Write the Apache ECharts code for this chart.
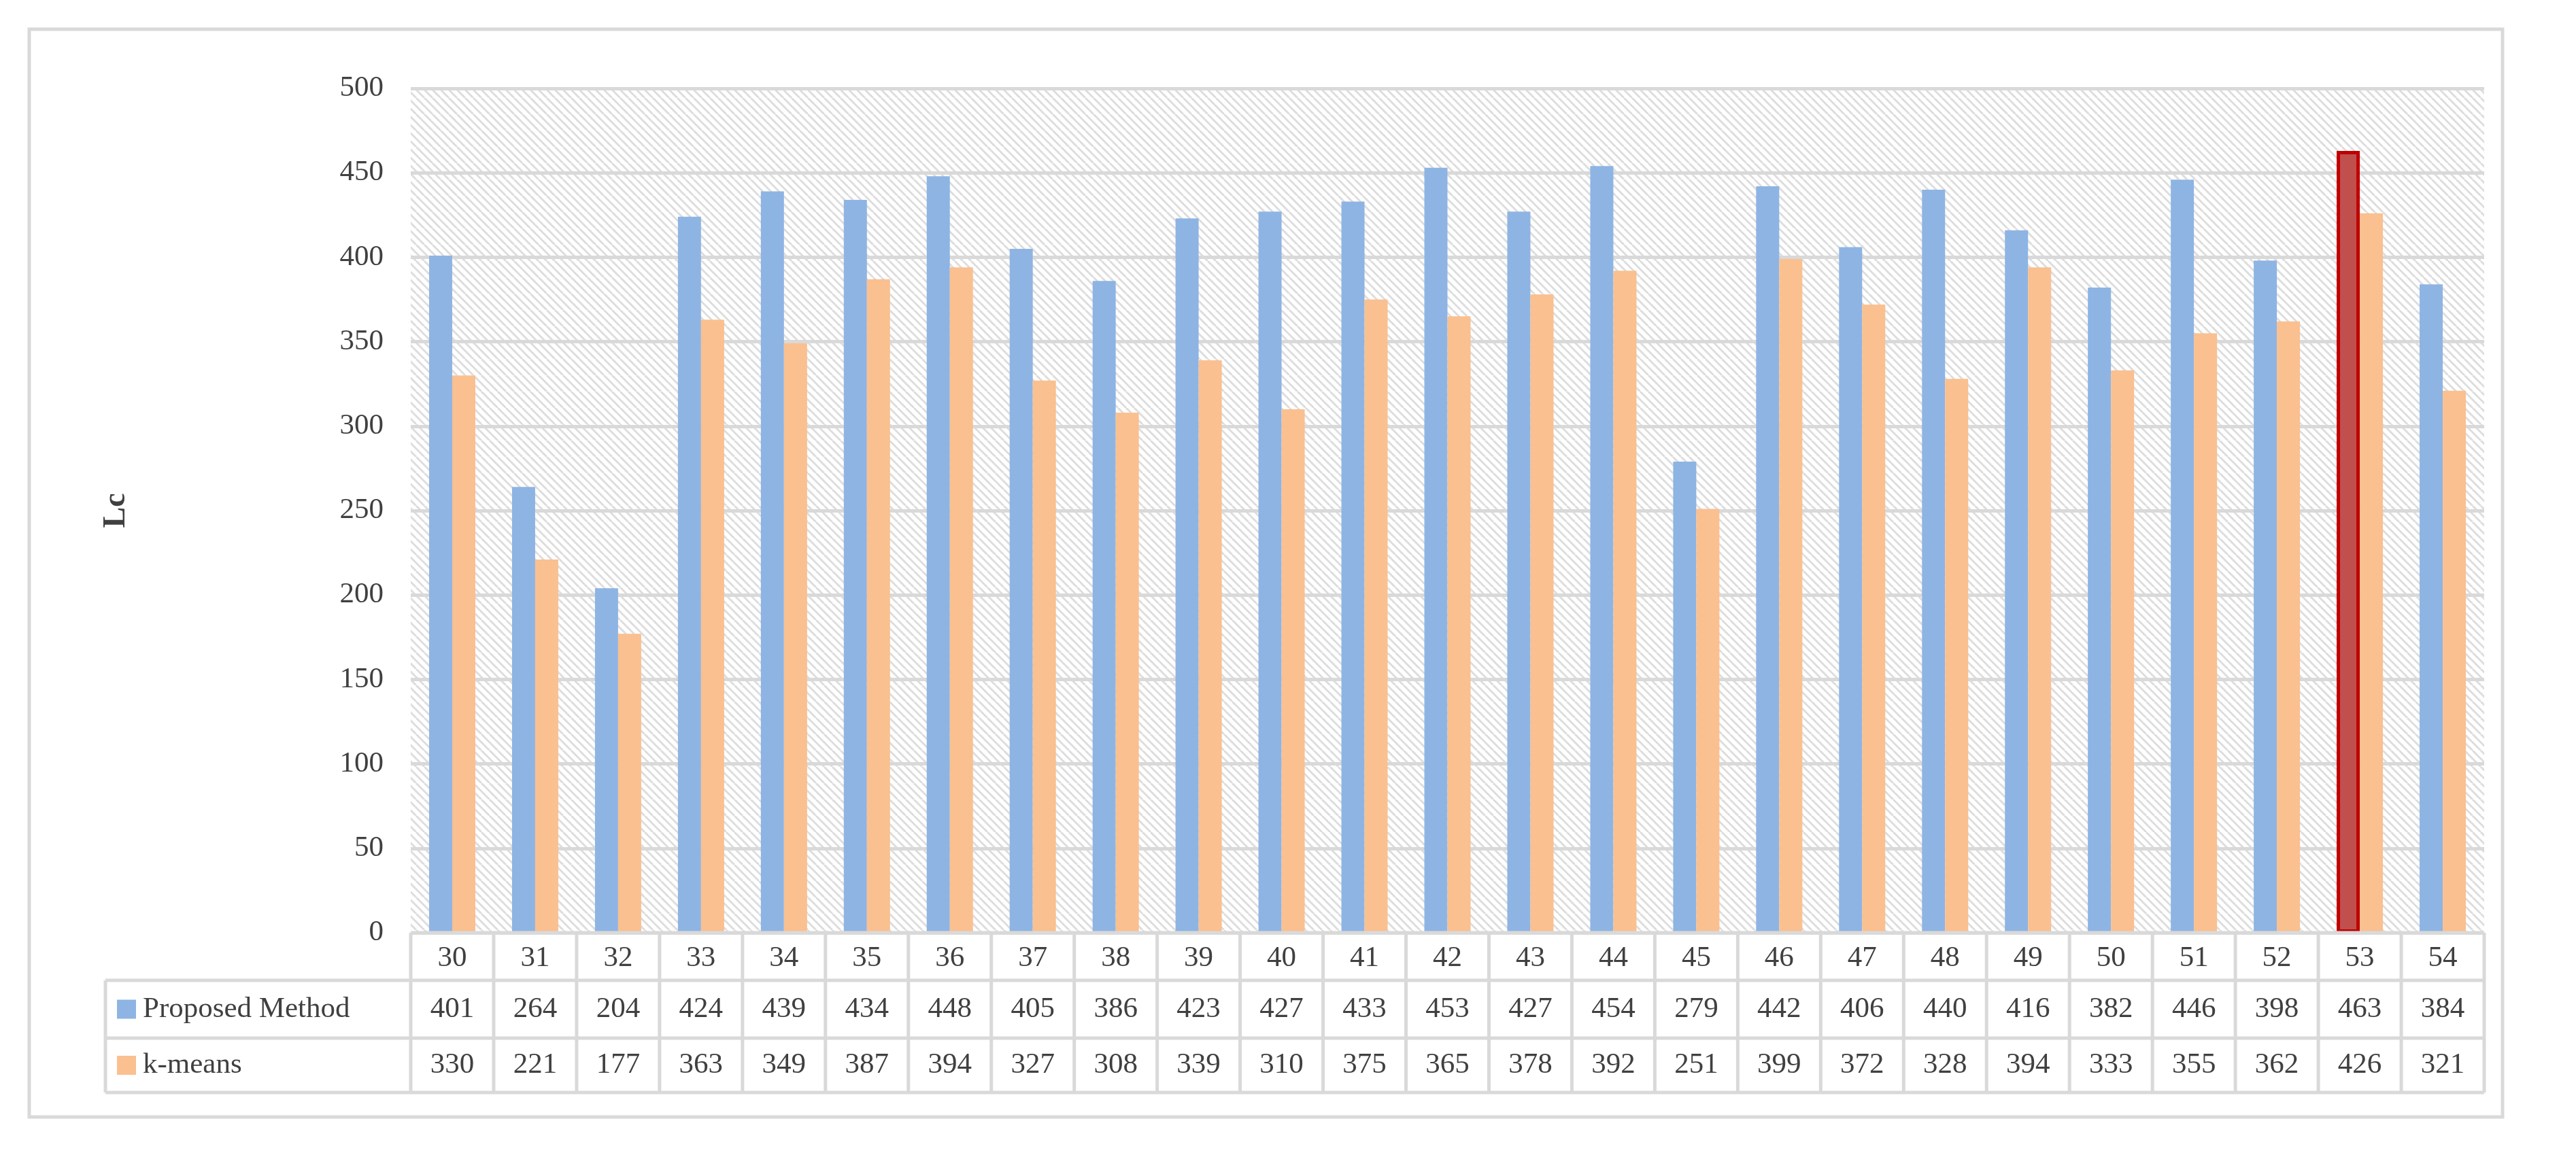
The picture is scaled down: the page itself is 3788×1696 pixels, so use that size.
<!DOCTYPE html>
<html><head><meta charset="utf-8">
<script src="https://cdn.jsdelivr.net/npm/echarts@6/dist/echarts.min.js"></script>
<style>html,body{margin:0;padding:0;background:#fff}#c{width:3788px;height:1696px}</style>
</head><body><div id="c"></div>
<script>
const categories = ['30','31','32','33','34','35','36','37','38','39','40','41','42','43','44','45','46','47','48','49','50','51','52','53','54'];
const proposed = [401,264,204,424,439,434,448,405,386,423,427,433,453,427,454,279,442,406,440,416,382,446,398,463,384];
const kmeans = [330,221,177,363,349,387,394,327,308,339,310,375,365,378,392,251,399,372,328,394,333,355,362,426,321];
const seriesNames = ['Proposed Method','k-means'];
const highlightCategory = '53';

const FONT = '"Liberation Serif", "Times New Roman", serif';
const TXT = '#404040';
const LINE = '#D9D9D9';
const G = {left:604, right:3788-3653, top:130, bottom:1696-1372};

const pc = document.createElement('canvas'); pc.width = 24; pc.height = 24;
const px = pc.getContext('2d');
px.fillStyle = '#fff'; px.fillRect(0,0,24,24);
px.strokeStyle = '#DDDDDD'; px.lineWidth = 3;
for (let k=-24;k<=48;k+=12){ px.beginPath(); px.moveTo(k,0); px.lineTo(k+24,24); px.stroke(); }

const chart = echarts.init(document.getElementById('c'));
const opt = {
  animation:false,
  backgroundColor:'#fff',
  grid:{...G, show:true, backgroundColor:{image:pc, repeat:'repeat'}, borderWidth:0},
  xAxis:{type:'category', data:categories,
    axisLine:{show:false}, axisTick:{show:false},
    axisLabel:{fontFamily:FONT, fontSize:43, color:TXT, margin:16}},
  yAxis:{type:'value', min:0, max:500, interval:50,
    name:'Lc', nameLocation:'middle', nameGap:410, nameRotate:90,
    nameTextStyle:{fontFamily:FONT, fontSize:46, fontWeight:'bold', color:TXT},
    axisLabel:{fontFamily:FONT, fontSize:43, color:TXT, margin:40},
    splitLine:{lineStyle:{color:LINE, width:5}}},
  series:[
    {name:seriesNames[0], type:'bar', barWidth:34, barGap:'0%',
     data:proposed.map((v,i)=>categories[i]===highlightCategory
       ? {value:v, itemStyle:{color:'#C0504D', borderColor:'#C00000', borderWidth:5}} : v),
     itemStyle:{color:'#8EB4E3'}},
    {name:seriesNames[1], type:'bar', barWidth:34, data:kmeans, itemStyle:{color:'#FAC090'}}
  ]
};
chart.setOption(opt);

const y0 = 1372, y1 = 1442, y2 = 1527, y3 = 1607, xl = 155;
const xr = 3788 - G.right;
const half = (xr - G.left) / categories.length / 2;
const els = [];
const ln = (x1,yA,x2,yB)=>els.push({type:'line', shape:{x1:x1,y1:yA,x2:x2,y2:yB}, style:{stroke:LINE, lineWidth:5}, z:10});
els.push({type:'rect', shape:{x:43,y:43,width:3680-43,height:1643-43}, style:{fill:null, stroke:LINE, lineWidth:5}, z:1});
ln(G.left, y0, xr, y0);
ln(xl, y1, xr, y1); ln(xl, y2, xr, y2); ln(xl, y3, xr, y3);
ln(xl, y1, xl, y3);
categories.forEach((c,i)=>{
  const cx = chart.convertToPixel({xAxisIndex:0}, c);
  ln(cx-half, y0, cx-half, y3);
  if (i===categories.length-1) ln(cx+half, y0, cx+half, y3);
  [[proposed[i], (y1+y2)/2], [kmeans[i], (y2+y3)/2]].forEach(([v,yy])=>{
    els.push({type:'text', x:cx, y:yy, style:{text:String(v), fontFamily:FONT, fontSize:43, fill:TXT, align:'center', verticalAlign:'middle'}, z:11});
  });
});
[['#8EB4E3', seriesNames[0], (y1+y2)/2], ['#FAC090', seriesNames[1], (y2+y3)/2]].forEach(([col,name,yy])=>{
  els.push({type:'rect', shape:{x:172, y:yy-14, width:28, height:28}, style:{fill:col}, z:11});
  els.push({type:'text', x:210, y:yy, style:{text:name, fontFamily:FONT, fontSize:43, fill:TXT, verticalAlign:'middle'}, z:11});
});
chart.setOption({graphic:els});
</script></body></html>
